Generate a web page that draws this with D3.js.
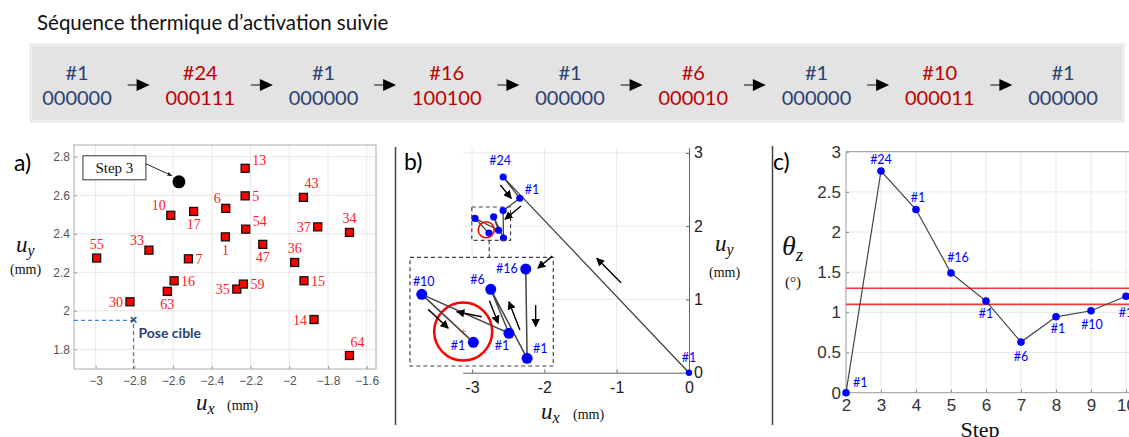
<!DOCTYPE html>
<html>
<head>
<meta charset="utf-8">
<script src="https://cdn.jsdelivr.net/npm/d3@7"></script>
<style>
  body { margin: 0; background: #fff; }
  svg text { font-family: "Liberation Sans", Arial, sans-serif; }
</style>
</head>
<body>
<div id="chart"></div>
<script>
// ---- data ---------------------------------------------------------------
// followed thermal activation sequence (banner)
const seqIds   = ["#1", "#24", "#1", "#16", "#1", "#6", "#1", "#10", "#1"];
const seqCodes = ["000000", "000111", "000000", "100100", "000000", "000010", "000000", "000011", "000000"];

// a) equilibrium pose of each activation combination (mm)
const actNums = [13, 5, 43, 6, 10, 17, 54, 37, 34, 1, 47, 55, 33, 7, 36, 16, 15, 63, 35, 59, 30, 14, 64];
const actUx = [-2.228, -2.228, -1.927, -2.328, -2.612, -2.494, -2.225, -1.853, -1.689, -2.330, -2.137, -2.995,
               -2.725, -2.521, -1.972, -2.595, -1.924, -2.630, -2.271, -2.237, -2.823, -1.872, -1.689];
const actUy = [2.740, 2.597, 2.589, 2.532, 2.496, 2.516, 2.424, 2.436, 2.407, 2.384, 2.345, 2.274,
               2.315, 2.270, 2.251, 2.156, 2.156, 2.101, 2.113, 2.139, 2.047, 1.955, 1.768];

// target pose (mm)
const targetUx = -2.805;
const targetUy = 1.95;

// b) + c) path followed during the sequence
const steps  = [2, 3, 4, 5, 6, 7, 8, 9, 10];
const pathUx = [0, -2.57, -2.34, -2.571, -2.566, -2.702, -2.634, -2.960, -2.767];
const pathUy = [0, 2.67, 2.38, 2.212, 1.838, 2.127, 1.943, 2.106, 1.905];
const thetaZ = [0, 2.76, 2.28, 1.49, 1.14, 0.63, 0.945, 1.02, 1.20];
const thetaTol = [1.1, 1.3];

// tick values
const aXTicks = [-3, -2.8, -2.6, -2.4, -2.2, -2, -1.8, -1.6];
const aYTicks = [1.8, 2, 2.2, 2.4, 2.6, 2.8];
const bXTicks = [-3, -2, -1, 0];
const bYTicks = [0, 1, 2, 3];
const cYTicks = [0, 0.5, 1, 1.5, 2, 2.5, 3];

// direction arrows drawn over panel b (data coords: x1,y1 -> x2,y2)
const bArrowsMain  = [[-0.940, 1.228, -1.276, 1.561], [-2.610, 2.561, -2.458, 2.379], [-2.324, 2.274, -2.545, 2.093]];
const bArrowsInset = [[-2.472, 2.266, -2.526, 2.215], [-2.534, 2.061, -2.534, 1.971], [-2.593, 1.957, -2.634, 2.075],
                      [-2.707, 2.079, -2.674, 1.985], [-2.736, 2.012, -2.829, 2.033], [-2.936, 2.043, -2.861, 1.964]];

// ---- label placement (style) -------------------------------------------
const aSide = ["ur", "r", "ar", "ul", "ul", "b", "ur", "l", "a", "b", "b", "a", "ul", "r", "a", "r", "r", "b", "l", "r", "l", "l", "ar"];
const aOff = {r: [7, 5, "start"], l: [-7, 5, "end"], a: [0, -9, "middle"], b: [0, 18, "middle"],
              ur: [7, -3, "start"], ul: [-5, -5, "end"], ar: [1, -9, "start"]};
const bOff = [[0, -11, "middle"], [-3, -12, "middle"], [5, -4, "start"], [-8, 4, "end"], [6, -5, "start"],
              [-6, -5, "end"], [-7, 17, "middle"], [2, -8, "middle"], [-8, 8, "end"]];
const cOff = [[7, -6, "start"], [0, -7, "middle"], [2, -8, "middle"], [7, -11, "middle"], [0, 17, "middle"],
              [0, 19, "middle"], [2, 16, "middle"], [1, 18, "middle"], [0, 21, "middle"]];

const navy = "#2a4272", darkRed = "#c00000", blue = "#0000ff";
const calibri = "Lato, 'Open Sans', sans-serif";
const serif = "'Liberation Serif', 'Times New Roman', serif";

const svg = d3.select("#chart").append("svg")
    .attr("width", 1129)
    .attr("height", 437);

const defs = svg.append("defs");
defs.append("marker")
    .attr("id", "head")
    .attr("viewBox", "0 0 10 10")
    .attr("refX", 9).attr("refY", 5)
    .attr("markerWidth", 6).attr("markerHeight", 6)
    .attr("orient", "auto")
    .append("path").attr("d", "M0,0L10,5L0,10z").attr("fill", "#000");
defs.append("marker")
    .attr("id", "headSmall")
    .attr("viewBox", "0 0 10 10")
    .attr("refX", 9).attr("refY", 5)
    .attr("markerWidth", 5).attr("markerHeight", 5)
    .attr("orient", "auto")
    .append("path").attr("d", "M0,1L10,5L0,9z").attr("fill", "#222");

// ---- banner ---------------------------------------------------------------
svg.append("text")
    .attr("x", 37).attr("y", 30)
    .style("font-family", calibri).style("font-size", "20.5px").attr("fill", "#111")
    .text("Séquence thermique d’activation suivie");

svg.append("rect")
    .attr("x", 29).attr("y", 43).attr("width", 1096).attr("height", 80)
    .attr("fill", "#e3e3e3");
svg.append("rect")
    .attr("x", 30.5).attr("y", 44.5).attr("width", 1093).attr("height", 77)
    .attr("fill", "none").attr("stroke", "#eeeeee").attr("stroke-width", 3);

const seqX = d3.scalePoint().domain(d3.range(seqIds.length)).range([77, 1063]);
const banner = svg.append("g");
seqIds.forEach((id, i) => {
    const col = id === "#1" ? navy : darkRed;
    banner.append("text").attr("x", seqX(i)).attr("y", 80).attr("text-anchor", "middle")
        .style("font-family", calibri).style("font-size", "20px").attr("fill", col).text(id);
    banner.append("text").attr("x", seqX(i)).attr("y", 105).attr("text-anchor", "middle")
        .style("font-family", calibri).style("font-size", "20px").attr("fill", col).text(seqCodes[i]);
    if (i < seqIds.length - 1) {
        const m = (seqX(i) + seqX(i + 1)) / 2;
        banner.append("line").attr("x1", m - 11).attr("x2", m - 1).attr("y1", 85).attr("y2", 85)
            .attr("stroke", "#555").attr("stroke-width", 1.5);
        banner.append("path").attr("d", `M${m - 2},${79}L${m + 11},${85}L${m - 2},${91}z`).attr("fill", "#000");
    }
});

// ---- panel a --------------------------------------------------------------
const xA = d3.scaleLinear([-3.112, -1.552], [74, 376]);
const yA = d3.scaleLinear([1.698, 2.861], [369, 145]);
const ga = svg.append("g");

ga.append("g").selectAll("line").data(aXTicks).join("line")
    .attr("x1", d => xA(d)).attr("x2", d => xA(d)).attr("y1", 145).attr("y2", 369)
    .attr("stroke", "#e8e8e8");
ga.append("g").selectAll("line").data(aYTicks).join("line")
    .attr("x1", 74).attr("x2", 376).attr("y1", d => yA(d)).attr("y2", d => yA(d))
    .attr("stroke", "#e8e8e8");

const axA_x = ga.append("g").attr("transform", "translate(0,369)")
    .call(d3.axisBottom(xA).tickValues(aXTicks).tickFormat(d3.format("")).tickSizeInner(-3).tickSizeOuter(0).tickPadding(7));
const axA_y = ga.append("g").attr("transform", "translate(74,0)")
    .call(d3.axisLeft(yA).tickValues(aYTicks).tickFormat(d3.format("")).tickSizeInner(-3).tickSizeOuter(0).tickPadding(4));
[axA_x, axA_y].forEach(ax => {
    ax.select(".domain").remove();
    ax.selectAll(".tick line").attr("stroke", "#999");
    ax.selectAll(".tick text").attr("fill", "#555").style("font-size", "12px");
});
ga.append("rect").attr("x", 74).attr("y", 145).attr("width", 302).attr("height", 224)
    .attr("fill", "none").attr("stroke", "#aaa");

// target pose guides
ga.append("path")
    .attr("d", `M74,${yA(targetUy)}H${xA(targetUx)}V369`)
    .attr("fill", "none").attr("stroke", "#3d8ad6").attr("stroke-width", 1.2).attr("stroke-dasharray", "4,3");
ga.append("text").attr("x", xA(targetUx)).attr("y", yA(targetUy) + 4).attr("text-anchor", "middle")
    .attr("fill", navy).style("font-size", "13px").style("font-weight", "bold").text("×");
ga.append("text").attr("x", xA(targetUx) + 5).attr("y", yA(targetUy) + 18)
    .style("font-family", calibri).style("font-size", "14px").style("font-weight", "bold")
    .attr("fill", navy).text("Pose cible");

// actuator poses
ga.append("g").selectAll("rect").data(actNums).join("rect")
    .attr("x", (d, i) => xA(actUx[i]) - 4).attr("y", (d, i) => yA(actUy[i]) - 4)
    .attr("width", 8).attr("height", 8)
    .attr("fill", "#ff0000").attr("stroke", "#111").attr("stroke-width", 1.3);
ga.append("g").selectAll("text").data(actNums).join("text")
    .attr("x", (d, i) => xA(actUx[i]) + aOff[aSide[i]][0])
    .attr("y", (d, i) => yA(actUy[i]) + aOff[aSide[i]][1])
    .attr("text-anchor", (d, i) => aOff[aSide[i]][2])
    .style("font-family", serif).style("font-size", "14px").attr("fill", "#ff2020")
    .text(d => d);

// step 3 callout
const s3x = xA(pathUx[1]), s3y = yA(pathUy[1]);
ga.append("circle").attr("cx", s3x).attr("cy", s3y).attr("r", 6.5).attr("fill", "#000");
ga.append("rect").attr("x", s3x - 96).attr("y", s3y - 26).attr("width", 63).attr("height", 24)
    .attr("fill", "#fff").attr("stroke", "#333").attr("stroke-width", 1);
ga.append("text").attr("x", s3x - 64.5).attr("y", s3y - 9).attr("text-anchor", "middle")
    .style("font-family", serif).style("font-size", "15px").attr("fill", "#111").text("Step 3");
ga.append("line").attr("x1", s3x - 33).attr("y1", s3y - 18).attr("x2", s3x - 7).attr("y2", s3y - 6)
    .attr("stroke", "#222").attr("stroke-width", 1).attr("marker-end", "url(#headSmall)");

// axis titles
const axisTitle = (g, x, y, main, sub, unit, unitDx, unitDy) => {
    const t = g.append("text").attr("x", x).attr("y", y).style("font-family", serif).attr("fill", "#111");
    t.append("tspan").style("font-style", "italic").style("font-size", "23px").text(main);
    t.append("tspan").style("font-style", "italic").style("font-size", "16px").attr("dy", 4).text(sub);
    if (unit) {
        g.append("text").attr("x", x + unitDx).attr("y", y + unitDy).style("font-family", serif)
            .style("font-size", "14px").attr("fill", "#111").text(unit);
    }
};
axisTitle(ga, 16, 252, "u", "y", "(mm)", -6, 22);
axisTitle(ga, 196, 410, "u", "x", "(mm)", 31, 0);
ga.append("text").attr("x", 14).attr("y", 171).style("font-family", calibri).style("font-size", "23px")
    .attr("fill", "#000").text("a)");

// dividers
svg.append("line").attr("x1", 395.5).attr("x2", 395.5).attr("y1", 147).attr("y2", 425)
    .attr("stroke", "#444").attr("stroke-width", 1.5);
svg.append("line").attr("x1", 772.5).attr("x2", 772.5).attr("y1", 146).attr("y2", 425)
    .attr("stroke", "#444").attr("stroke-width", 1.5);

// ---- panel b --------------------------------------------------------------
const xB = d3.scaleLinear([-3.13, 0], [462.7, 689]);
const yB = d3.scaleLinear([0, 3.07], [372.7, 147.7]);
const gb = svg.append("g");

gb.append("g").selectAll("line").data(bXTicks.slice(0, 3)).join("line")
    .attr("x1", d => xB(d)).attr("x2", d => xB(d)).attr("y1", 147.7).attr("y2", 372.7)
    .attr("stroke", "#e8e8e8");
gb.append("g").selectAll("line").data(bYTicks.slice(1)).join("line")
    .attr("x1", 462.7).attr("x2", 689).attr("y1", d => yB(d)).attr("y2", d => yB(d))
    .attr("stroke", "#e8e8e8");

const axB_x = gb.append("g").attr("transform", "translate(0,372.7)")
    .call(d3.axisBottom(xB).tickValues(bXTicks).tickFormat(d3.format("")).tickSizeInner(-3).tickSizeOuter(0).tickPadding(9));
const axB_y = gb.append("g").attr("transform", "translate(689,0)")
    .call(d3.axisRight(yB).tickValues(bYTicks).tickFormat(d3.format("")).tickSizeInner(-3).tickSizeOuter(0).tickPadding(5));
[axB_x, axB_y].forEach(ax => {
    ax.select(".domain").attr("stroke", "#666");
    ax.selectAll(".tick line").attr("stroke", "#666");
    ax.selectAll(".tick text").attr("fill", "#222").style("font-size", "16px");
});
axB_x.selectAll(".tick text").text(d => d === 0 ? "0" : "-" + Math.abs(d));

const line = d3.line();
const pts = steps.map((s, i) => i);

// main trajectory
gb.append("path")
    .attr("d", line(pts.map(i => [xB(pathUx[i]), yB(pathUy[i])])))
    .attr("fill", "none").attr("stroke", "#444").attr("stroke-width", 1.3);
gb.append("g").selectAll("circle").data(pts).join("circle")
    .attr("cx", i => xB(pathUx[i])).attr("cy", i => yB(pathUy[i]))
    .attr("r", i => i === 0 ? 3.2 : 3.6).attr("fill", blue);
gb.append("circle").attr("cx", xB(targetUx)).attr("cy", yB(targetUy)).attr("r", 8)
    .attr("fill", "none").attr("stroke", "#ff0000").attr("stroke-width", 1.6);

// zoom box around the end of the path
const zx = [-3.004, -2.468], zy = [1.806, 2.261];
gb.append("rect")
    .attr("x", xB(zx[0])).attr("y", yB(zy[1]))
    .attr("width", xB(zx[1]) - xB(zx[0])).attr("height", yB(zy[0]) - yB(zy[1]))
    .attr("fill", "none").attr("stroke", "#444").attr("stroke-width", 1.2).attr("stroke-dasharray", "4,3");

const xI = d3.scaleLinear(zx, [410, 553.3]);
const yI = d3.scaleLinear(zy, [366, 257.3]);
const zMid = xB((zx[0] + zx[1]) / 2) - 2;
gb.append("line").attr("x1", zMid).attr("x2", zMid).attr("y1", yB(zy[0])).attr("y2", 257.3)
    .attr("stroke", "#444").attr("stroke-width", 1.2).attr("stroke-dasharray", "4,3");
gb.append("rect").attr("x", 410).attr("y", 257.3).attr("width", 143.3).attr("height", 108.7)
    .attr("fill", "#fff").attr("fill-opacity", 0.85)
    .attr("stroke", "#444").attr("stroke-width", 1.2).attr("stroke-dasharray", "4,3");

const insetPts = pts.slice(3);
gb.append("circle").attr("cx", xI(targetUx)).attr("cy", yI(targetUy)).attr("r", 29)
    .attr("fill", "none").attr("stroke", "#ff0000").attr("stroke-width", 2.5);
gb.append("text").attr("x", xI(targetUx)).attr("y", yI(targetUy) + 4).attr("text-anchor", "middle")
    .attr("fill", "#ff8080").style("font-size", "12px").text("+");
gb.append("path")
    .attr("d", line(insetPts.map(i => [xI(pathUx[i]), yI(pathUy[i])])))
    .attr("fill", "none").attr("stroke", "#444").attr("stroke-width", 1.5);
gb.append("g").selectAll("circle").data(insetPts).join("circle")
    .attr("cx", i => xI(pathUx[i])).attr("cy", i => yI(pathUy[i]))
    .attr("r", 5.5).attr("fill", blue);

// arrows
gb.append("g").selectAll("line").data(bArrowsMain).join("line")
    .attr("x1", d => xB(d[0])).attr("y1", d => yB(d[1])).attr("x2", d => xB(d[2])).attr("y2", d => yB(d[3]))
    .attr("stroke", "#000").attr("stroke-width", 1.4).attr("marker-end", "url(#head)");
gb.append("g").selectAll("line").data(bArrowsInset).join("line")
    .attr("x1", d => xI(d[0])).attr("y1", d => yI(d[1])).attr("x2", d => xI(d[2])).attr("y2", d => yI(d[3]))
    .attr("stroke", "#000").attr("stroke-width", 1.4).attr("marker-end", "url(#head)");

// labels
gb.append("g").selectAll("text").data(pts).join("text")
    .attr("x", i => (i < 3 ? xB(pathUx[i]) : xI(pathUx[i])) + bOff[i][0])
    .attr("y", i => (i < 3 ? yB(pathUy[i]) : yI(pathUy[i])) + bOff[i][1])
    .attr("text-anchor", i => bOff[i][2])
    .style("font-family", calibri).style("font-size", "12.5px").attr("fill", blue)
    .text(i => seqIds[i]);

axisTitle(gb, 715, 251, "u", "y", "(mm)", -6, 26);
axisTitle(gb, 541, 419, "u", "x", "(mm)", 32, 0);
gb.append("text").attr("x", 404).attr("y", 170).style("font-family", calibri).style("font-size", "23px")
    .attr("fill", "#000").text("b)");

// ---- panel c --------------------------------------------------------------
const xC = d3.scaleLinear([2, 10], [846, 1126]);
const yC = d3.scaleLinear([0, 3], [392.7, 151.7]);
const gc = svg.append("g");

gc.append("g").selectAll("line").data(steps.slice(1)).join("line")
    .attr("x1", d => xC(d)).attr("x2", d => xC(d)).attr("y1", 151.7).attr("y2", 392.7)
    .attr("stroke", "#e8e8e8");
gc.append("g").selectAll("line").data(cYTicks.slice(1)).join("line")
    .attr("x1", 846).attr("x2", 1140).attr("y1", d => yC(d)).attr("y2", d => yC(d))
    .attr("stroke", "#e8e8e8");

const axC_x = gc.append("g").attr("transform", "translate(0,392.7)")
    .call(d3.axisBottom(xC).tickValues(steps).tickFormat(d3.format("")).tickSizeInner(-3).tickSizeOuter(0).tickPadding(6));
const axC_y = gc.append("g").attr("transform", "translate(846,0)")
    .call(d3.axisLeft(yC).tickValues(cYTicks).tickFormat(d3.format("")).tickSizeInner(-3).tickSizeOuter(0).tickPadding(5));
[axC_x, axC_y].forEach(ax => {
    ax.select(".domain").remove();
    ax.selectAll(".tick line").attr("stroke", "#888");
    ax.selectAll(".tick text").attr("fill", "#333").style("font-size", "17px");
});
gc.append("path").attr("d", "M1140,151.7H846V392.7H1140")
    .attr("fill", "none").attr("stroke", "#999");

// tolerance band
gc.append("g").selectAll("line").data(thetaTol).join("line")
    .attr("x1", 846).attr("x2", 1140).attr("y1", d => yC(d)).attr("y2", d => yC(d))
    .attr("stroke", "#f03a3a").attr("stroke-width", 1.6);

gc.append("path")
    .attr("d", line(pts.map(i => [xC(steps[i]), yC(thetaZ[i])])))
    .attr("fill", "none").attr("stroke", "#444").attr("stroke-width", 1.2);
gc.append("g").selectAll("circle").data(pts).join("circle")
    .attr("cx", i => xC(steps[i])).attr("cy", i => yC(thetaZ[i]))
    .attr("r", 3.8).attr("fill", blue);
gc.append("g").selectAll("text").data(pts).join("text")
    .attr("x", i => xC(steps[i]) + cOff[i][0])
    .attr("y", i => yC(thetaZ[i]) + cOff[i][1])
    .attr("text-anchor", i => cOff[i][2])
    .style("font-family", calibri).style("font-size", "12.5px").attr("fill", blue)
    .text(i => seqIds[i]);

const th = gc.append("text").attr("x", 782).attr("y", 255).style("font-family", serif).attr("fill", "#111");
th.append("tspan").style("font-style", "italic").style("font-size", "28px").text("θ");
th.append("tspan").style("font-style", "italic").style("font-size", "19px").attr("dy", 6).text("z");
gc.append("text").attr("x", 793).attr("y", 287).attr("text-anchor", "middle").style("font-family", serif)
    .style("font-size", "15px").attr("fill", "#111").text("(°)");
gc.append("text").attr("x", 980).attr("y", 437).attr("text-anchor", "middle").style("font-family", serif)
    .style("font-size", "22px").attr("fill", "#111").text("Step");
gc.append("text").attr("x", 773).attr("y", 170).style("font-family", calibri).style("font-size", "23px")
    .attr("fill", "#000").text("c)");
</script>
</body>
</html>
